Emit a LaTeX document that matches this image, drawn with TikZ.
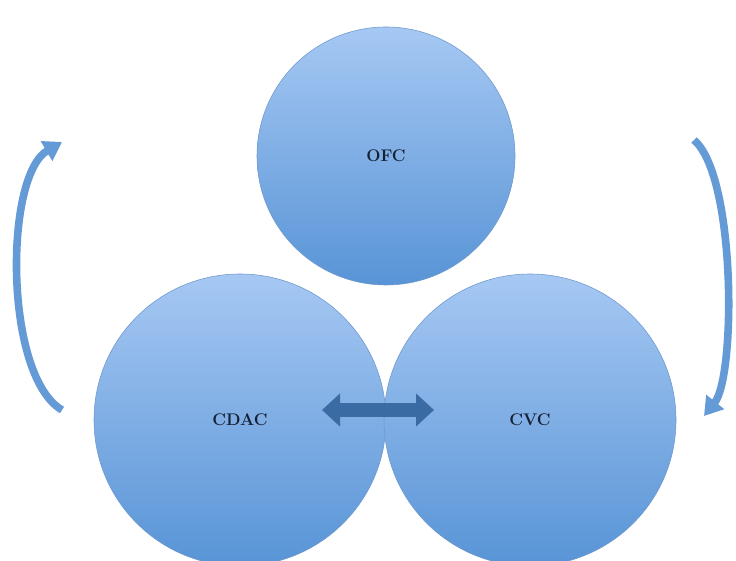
\documentclass[tikz,border=0pt]{standalone}
\usepackage{tikz}
\usetikzlibrary{arrows.meta,shapes}
\definecolor{node_top}{RGB}{166,200,243}
\definecolor{node_bot}{RGB}{88,148,214}
\definecolor{edge_blue}{RGB}{110,152,205}
\definecolor{text_dark}{RGB}{22,32,52}
\definecolor{arrow_dark}{RGB}{58,108,163}
\definecolor{arrow_blue}{RGB}{100,154,214}

\begin{document}
\begin{tikzpicture}[semithick]
    \tikzstyle{region}=[draw=edge_blue, circle, thin, top color=node_top, bottom color=node_bot, text=text_dark, font=\large\bfseries, inner sep=0pt]
    \tikzstyle{regionbig}=[style=region, minimum size=7.3cm]
    \tikzstyle{regionsmall}=[style=region, minimum size=6.45cm]
    \tikzstyle{swap}=[arrow_dark, line width=0.35cm, {Triangle[width=0.8cm,length=0.45cm]}-{Triangle[width=0.8cm,length=0.45cm]}]
    \tikzstyle{cycle}=[arrow_blue, line width=0.19cm, -{Triangle[width=0.55cm,length=0.45cm]}]

    \useasboundingbox (0,0) rectangle (18.4,14);

    \node[regionsmall] (OFC)  at (9.65,10.1) {OFC};
    \node[regionbig]   (CDAC) at (6.0,3.5)   {CDAC};
    \node[regionbig]   (CVC)  at (13.25,3.5) {CVC};

    \coordinate (swapL) at (8.05,3.75);
    \coordinate (swapR) at (10.85,3.75);
    \coordinate (leftA) at (1.55,3.75);
    \coordinate (leftB) at (1.55,10.45);
    \coordinate (rightA) at (17.35,10.5);
    \coordinate (rightB) at (17.6,3.6);

    \draw[swap] (swapL) -- (swapR);
    \draw[cycle] (leftA) .. controls (0.1,4.6) and (0.1,9.6) .. (leftB);
    \draw[cycle] (rightA) .. controls (18.4,9.6) and (18.4,4.6) .. (rightB);
\end{tikzpicture}
\end{document}
